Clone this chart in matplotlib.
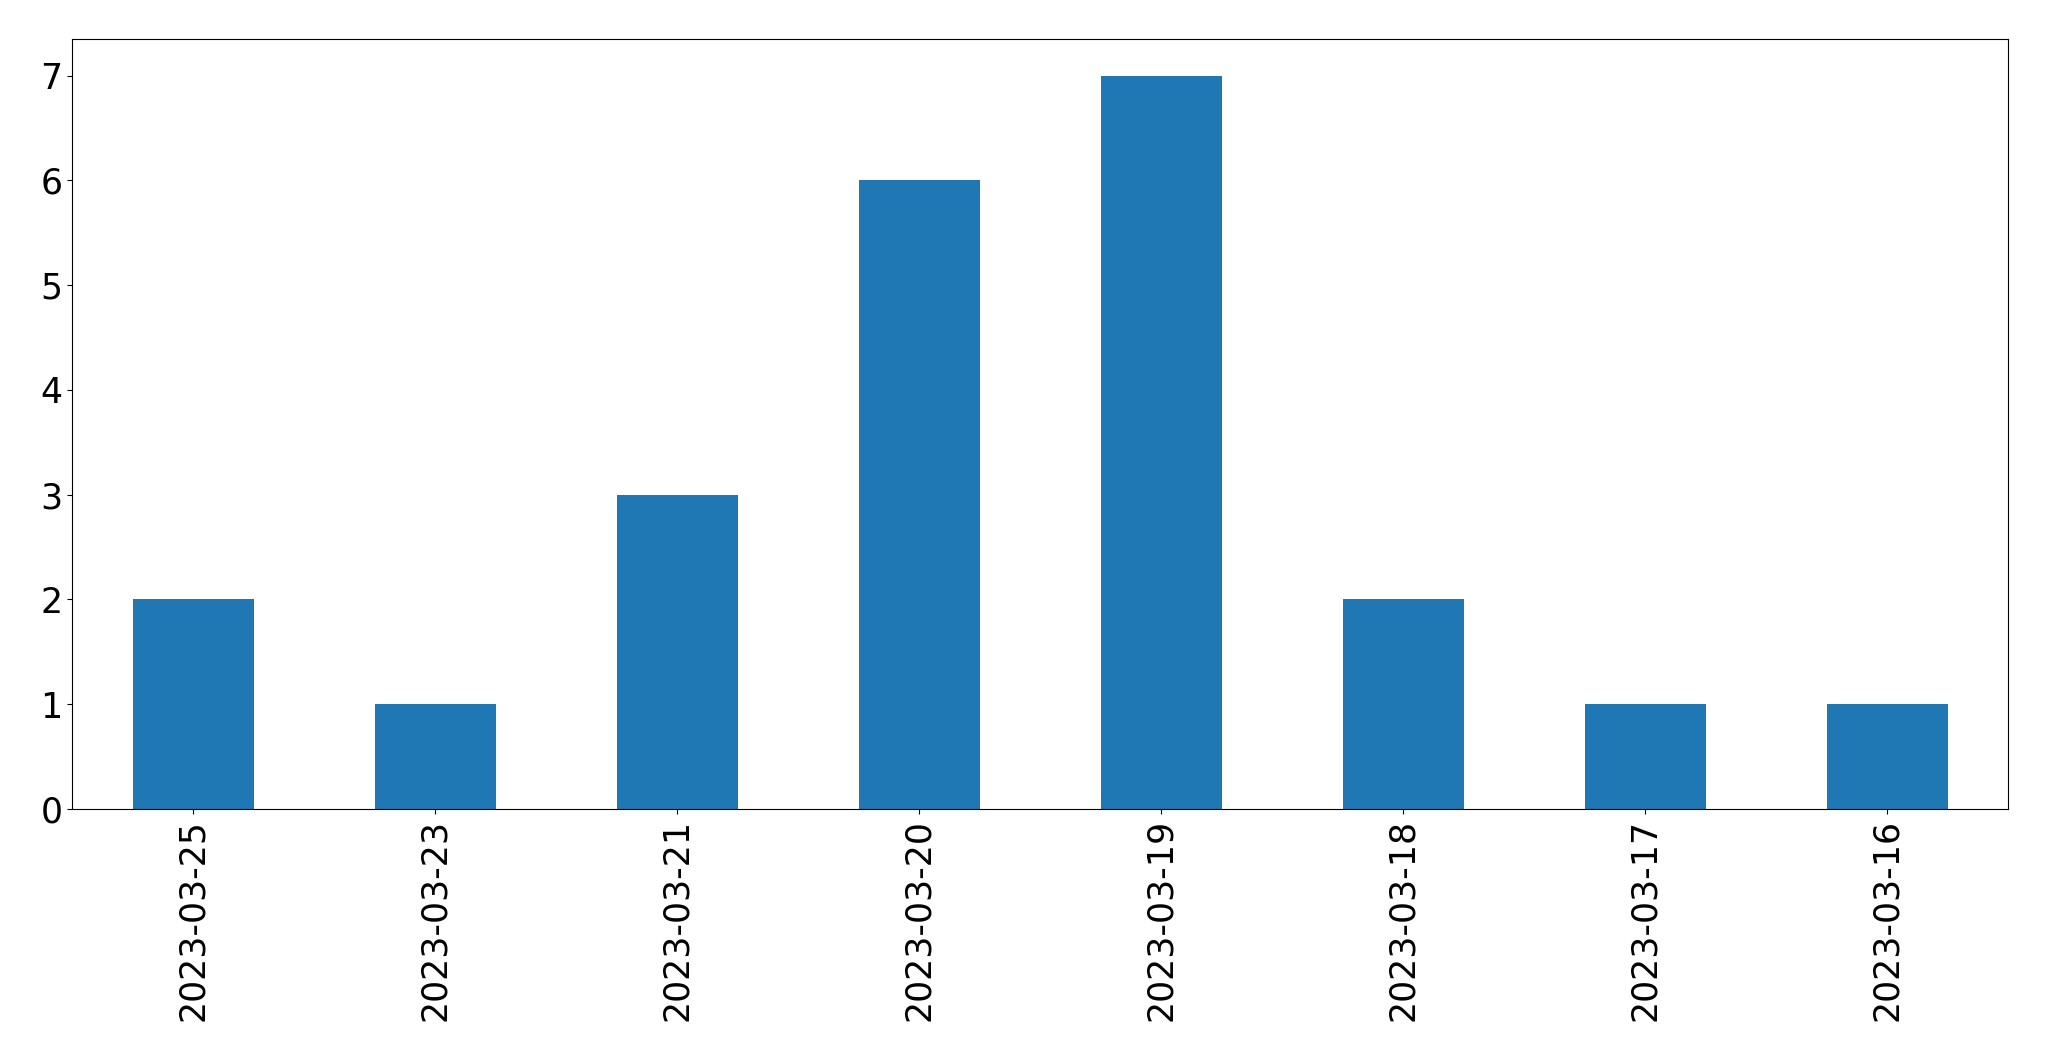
import matplotlib
matplotlib.use("Agg")
import matplotlib.pyplot as plt
import pandas as pd

dates = ["2023-03-25", "2023-03-23", "2023-03-21", "2023-03-20",
         "2023-03-19", "2023-03-18", "2023-03-17", "2023-03-16"]
counts = [2, 1, 3, 6, 7, 2, 1, 1]

fig = plt.figure(figsize=(20.49, 10.61), dpi=100)
ax = fig.add_axes([72 / 2049, 1 - 809 / 1061, 1936 / 2049, 770 / 1061])

s = pd.Series(counts, index=dates)
s.plot(kind="bar", ax=ax, color="#1f77b4", width=0.5)

ax.tick_params(axis="both", labelsize=25)
ax.set_xlabel("")

fig.savefig("out.png", dpi=100)
